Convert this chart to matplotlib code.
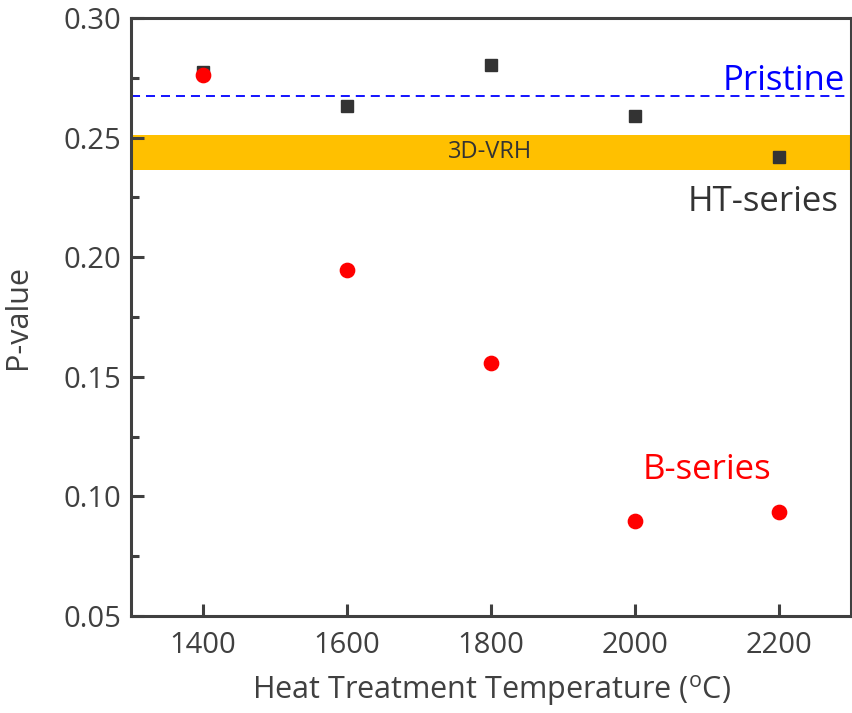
import matplotlib
matplotlib.use("Agg")
import matplotlib.pyplot as plt
from matplotlib.ticker import MultipleLocator, FormatStrFormatter

plt.rcParams['font.family'] = ['Open Sans', 'DejaVu Sans']

temps = [1400, 1600, 1800, 2000, 2200]
ht_series = [0.2774, 0.2632, 0.2804, 0.2589, 0.2419]
b_series = [0.2762, 0.1946, 0.1558, 0.0897, 0.0935]
pristine_p = 0.2674
vrh_band = (0.2365, 0.2511)

ink = '#404040'

fig = plt.figure(figsize=(8.52, 7.13), dpi=100)
ax = fig.add_axes([0.1538, 0.136, 0.845, 0.8388])

ax.axhspan(vrh_band[0], vrh_band[1], color='#FFC000', lw=0, zorder=1)
ax.axhline(pristine_p, color='#0000FF', ls=(0, (5, 3.3)), lw=1.3, zorder=2)

ax.plot(temps, ht_series, 's', color='#333333', ms=9.3, zorder=3, ls='none')
ax.plot(temps, b_series, 'o', color='#FF0000', ms=10.3, zorder=4, ls='none')

ax.set_xlim(1300, 2300)
ax.set_ylim(0.05, 0.30)
ax.xaxis.set_major_locator(MultipleLocator(200))
ax.yaxis.set_major_locator(MultipleLocator(0.05))
ax.yaxis.set_minor_locator(MultipleLocator(0.025))
ax.yaxis.set_major_formatter(FormatStrFormatter('%.2f'))

for s in ax.spines.values():
    s.set_color(ink)
    s.set_linewidth(2.2)

ax.tick_params(axis='both', which='major', direction='in', length=9, width=2.2,
               color=ink, labelcolor=ink, labelsize=21, pad=7)
ax.tick_params(axis='x', which='major', pad=11)
ax.tick_params(axis='y', which='minor', direction='in', length=6, width=2.2, color=ink)
ax.tick_params(top=False, right=False, which='both')

ax.set_xlabel('Heat Treatment Temperature ($^{\\mathregular{o}}$C)', fontsize=22, color=ink, labelpad=9)
ax.set_ylabel('P-value', fontsize=22, color=ink, labelpad=22)

ax.text(2292, 0.2699, 'Pristine', color='#0000FF', fontsize=25, ha='right', va='baseline')
ax.text(2282, 0.2231, 'HT-series', color='#333333', fontsize=25, ha='right', va='center')
ax.text(1798, 0.2438, '3D-VRH', color='#333333', fontsize=17, ha='center', va='center')
ax.text(2100, 0.1112, 'B-series', color='#FF0000', fontsize=25, ha='center', va='center')

fig.savefig('out.png', dpi=100)
